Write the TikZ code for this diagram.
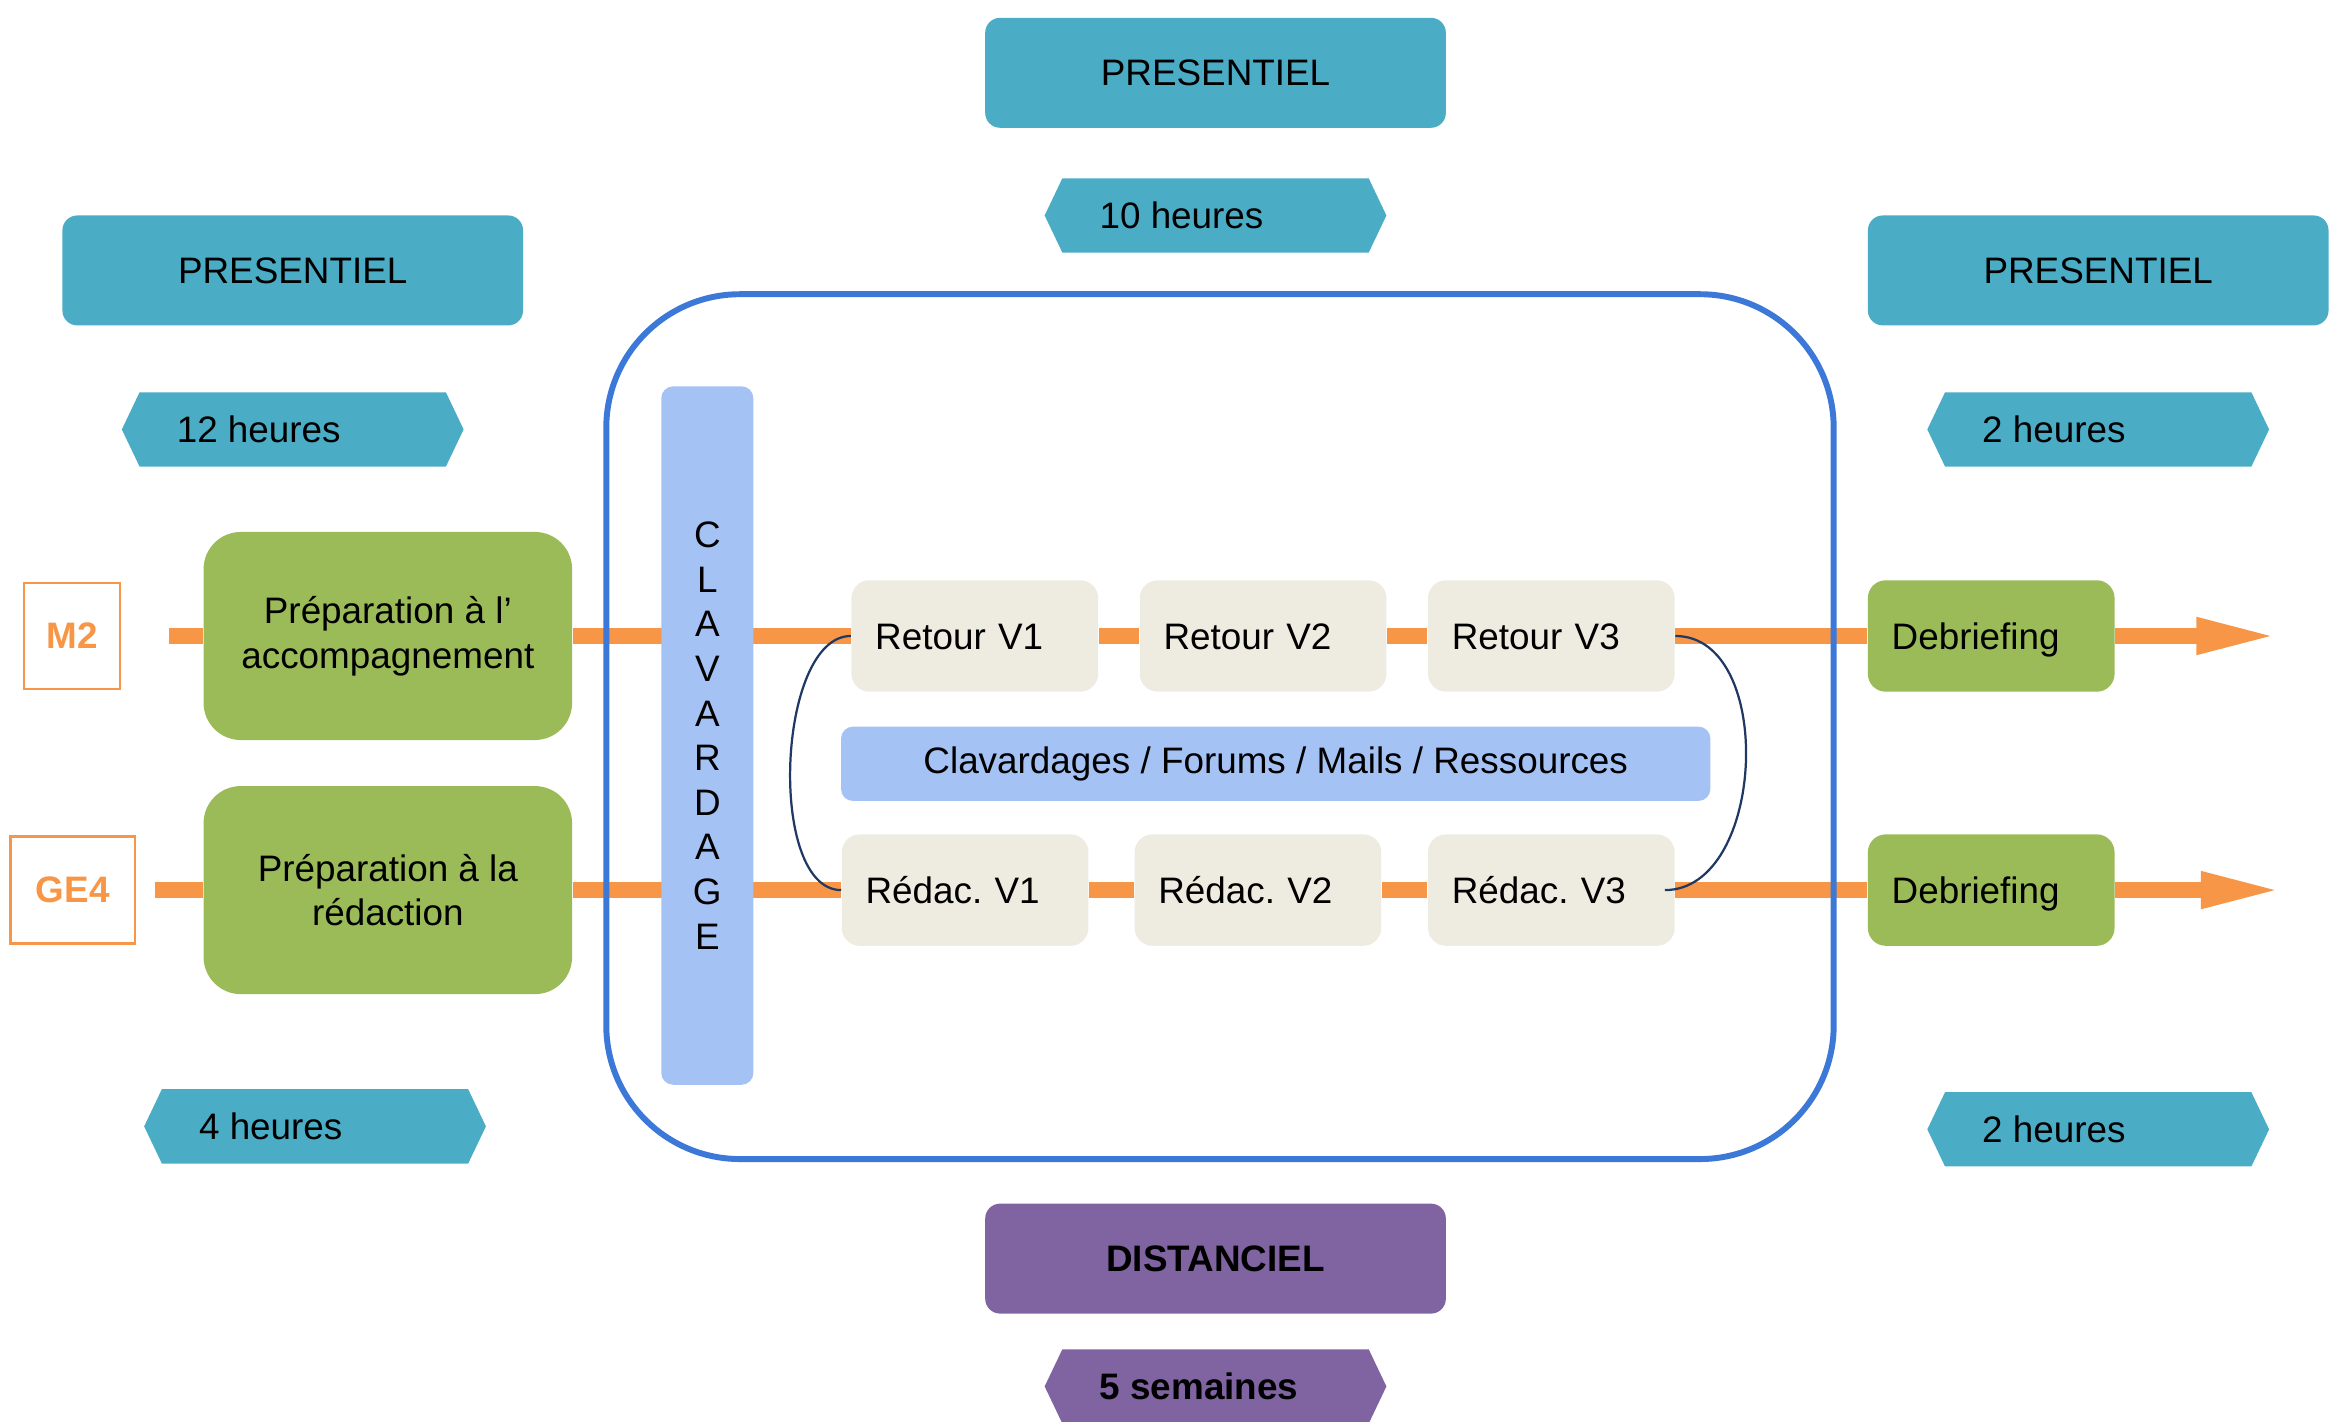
\documentclass[tikz,border=0pt]{standalone}
\usepackage{fontspec}
\setmainfont{Liberation Sans}
\usetikzlibrary{shapes.symbols, arrows.meta, backgrounds}

\definecolor{sessteal}{HTML}{4BACC6}
\definecolor{distpurple}{HTML}{8064A2}
\definecolor{prepgreen}{HTML}{9BBB59}
\definecolor{flowor}{HTML}{F79646}
\definecolor{clavblue}{HTML}{A4C2F4}
\definecolor{frameblue}{HTML}{3C78D8}
\definecolor{stepbeige}{HTML}{EEECE1}
\definecolor{loopnavy}{HTML}{1F3864}

\newcommand{\diagfont}{\fontsize{12.4}{15}\selectfont\frenchspacing}

\begin{document}
\begin{tikzpicture}[x=0.5pt, y=-0.5pt, font=\diagfont,
    sessionbox/.style={rectangle, rounded corners=5pt, fill=#1,
        minimum width=155pt, minimum height=37pt},
    hexabox/.style={signal, signal to=west and east, signal pointer angle=129,
        fill=#1, minimum width=115pt, minimum height=25pt, inner sep=0pt},
    hexatext/.style={anchor=west, inner sep=0pt},
    prepbox/.style={rectangle, rounded corners=12.5pt, fill=prepgreen,
        minimum width=124pt, minimum height=70pt, align=center},
    stepbox/.style={rectangle, rounded corners=6pt, fill=#1, minimum height=37.5pt,
        text width=67pt, text height=8.9pt, text depth=0pt, inner xsep=8pt, align=left},
    groupbox/.style={rectangle, draw=flowor, line width=0.75pt, text=flowor,
        font=\diagfont\bfseries, inner sep=0pt},
    flowline/.style={draw=flowor, line width=5.5pt},
    loopline/.style={draw=loopnavy, line width=0.75pt}]

    \useasboundingbox (0,0) rectangle (1568,956.3);

    % Modes and durations
    \node[sessionbox=sessteal] (prestop) at (818,49) {PRESENTIEL};
    \node[hexabox=sessteal] (h10) at (818,145) {};
    \node[hexatext] (t10) at ([xshift=18.5pt]h10.west) {10 heures};

    \node[sessionbox=sessteal] (presleft) at (197,182) {PRESENTIEL};
    \node[hexabox=sessteal] (h12) at (197,289) {};
    \node[hexatext] (t12) at ([xshift=18.5pt]h12.west) {12 heures};
    \node[hexabox=sessteal] (h4) at (212,758) {};
    \node[hexatext] (t4) at ([xshift=18.5pt]h4.west) {4 heures};

    \node[sessionbox=sessteal] (presright) at (1412,182) {PRESENTIEL};
    \node[hexabox=sessteal] (h2a) at (1412,289) {};
    \node[hexatext] (t2a) at ([xshift=18.5pt]h2a.west) {2 heures};
    \node[hexabox=sessteal] (h2b) at (1412,760) {};
    \node[hexatext] (t2b) at ([xshift=18.5pt]h2b.west) {2 heures};

    \node[sessionbox=distpurple, font=\diagfont\bfseries] (dist) at (818,847) {DISTANCIEL};
    \node[hexabox=distpurple] (h5) at (818,933) {};
    \node[hexatext, font=\diagfont\bfseries] (t5) at ([xshift=18.5pt]h5.west) {5 semaines};

    % Groups
    \node[groupbox, minimum width=32.5pt, minimum height=35.5pt] (m2) at (48.5,428) {M2};
    \node[groupbox, minimum width=42pt, minimum height=36pt] (ge4) at (49,599) {GE4};

    \node[prepbox] (prepacc) at (261,428) {Préparation à l’\\accompagnement};
    \node[prepbox] (prepred) at (261,599) {Préparation à la\\rédaction};

    % Distance part
    \draw[frameblue, line width=2pt, rounded corners=45pt] (408,198) rectangle (1234,780);
    \node[fill=clavblue, rounded corners=4pt, minimum width=31pt, minimum height=235pt,
        inner sep=0pt, align=center] (clav) at (476,495)
        {C\\L\\A\\V\\A\\R\\D\\A\\G\\E};

    \node[stepbox=stepbeige] (ret1) at (656,428) {Retour V1};
    \node[stepbox=stepbeige] (ret2) at (850,428) {Retour V2};
    \node[stepbox=stepbeige] (ret3) at (1044,428) {Retour V3};
    \node[fill=clavblue, rounded corners=4pt, minimum width=292.5pt, minimum height=25pt]
        (res) at (858.5,514) {Clavardages / Forums / Mails / Ressources};
    \node[stepbox=stepbeige] (red1) at (649.5,599) {Rédac. V1};
    \node[stepbox=stepbeige] (red2) at (846.5,599) {Rédac. V2};
    \node[stepbox=stepbeige] (red3) at (1044,599) {Rédac. V3};

    \node[stepbox=prepgreen] (deb1) at (1340,428) {Debriefing};
    \node[stepbox=prepgreen] (deb2) at (1340,599) {Debriefing};

    % Flows
    \coordinate (s1) at (114,428);
    \coordinate (e1) at (1535,428);
    \coordinate (s2) at (104,599);
    \coordinate (e2) at (1538,599);
    \begin{scope}[on background layer]
        \draw[flowline] (s1) -- (prepacc) -- (ret1) -- (ret2) -- (ret3) -- (deb1);
        \draw[flowline] (s2) -- (prepred) -- (red1) -- (red2) -- (red3) -- (deb2);
        \draw[flowline, -{Triangle[length=28.5pt, width=11pt]}] (deb1) -- (e1);
        \draw[flowline, -{Triangle[length=28.5pt, width=11pt]}] (deb2) -- (e2);
    \end{scope}

    \draw[loopline] (ret1.west) .. controls +(-50,0) and +(-50,0) .. (red1.west);
    \draw[loopline] (ret3.east) .. controls +(68,0) and +(68,0) .. ([xshift=-3.5pt]red3.east);

\end{tikzpicture}
\end{document}
